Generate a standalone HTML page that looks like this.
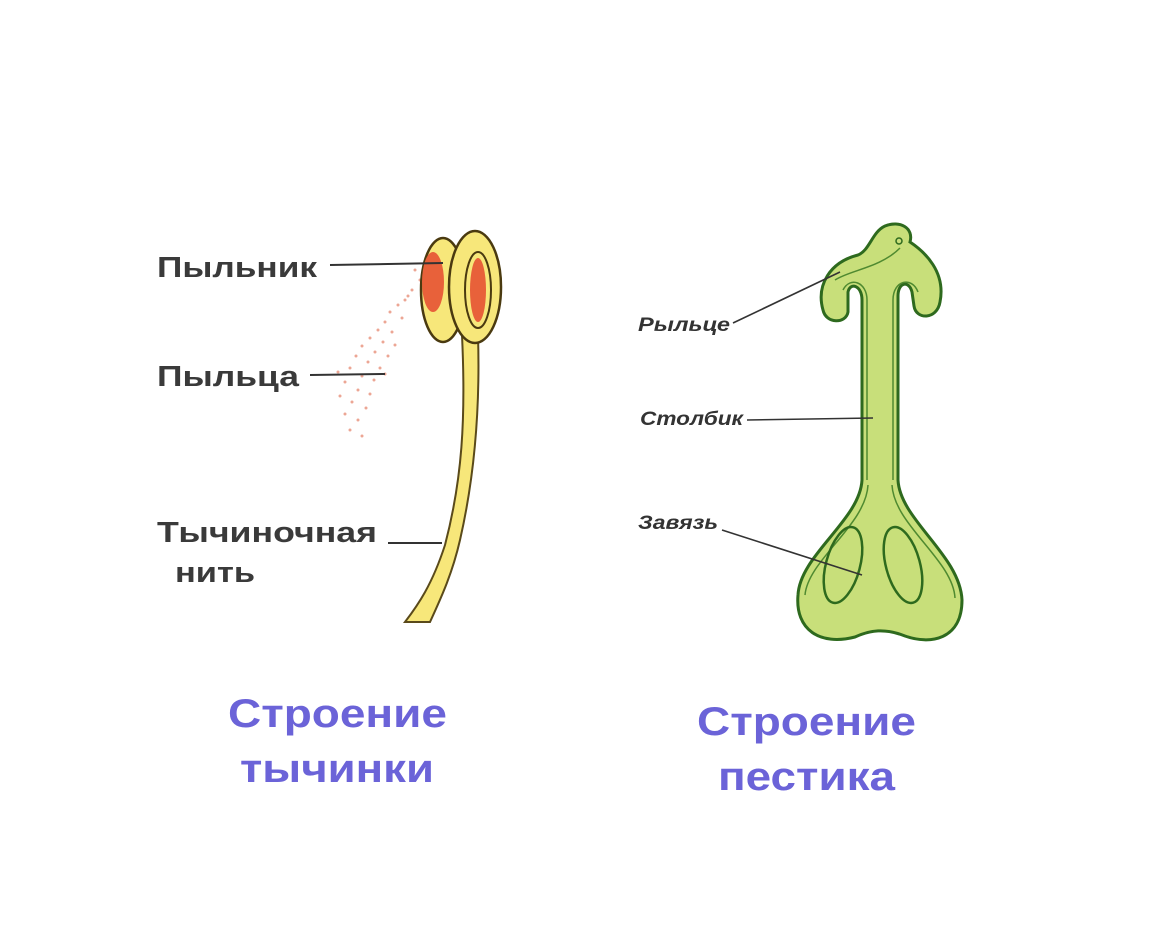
<!DOCTYPE html>
<html><head><meta charset="utf-8"><style>
html,body{margin:0;padding:0;background:#fff;}
svg{display:block}
</style></head><body>
<svg width="1170" height="936" viewBox="0 0 1170 936" xmlns="http://www.w3.org/2000/svg">
<rect width="1170" height="936" fill="#fff"/>
<!-- pollen -->
<g fill="#e8907a" opacity="0.8">
<circle cx="420" cy="280" r="1.5"/><circle cx="412" cy="290" r="1.5"/><circle cx="405" cy="300" r="1.5"/><circle cx="398" cy="305" r="1.5"/><circle cx="390" cy="312" r="1.5"/><circle cx="402" cy="318" r="1.5"/><circle cx="385" cy="322" r="1.5"/><circle cx="378" cy="330" r="1.5"/><circle cx="392" cy="332" r="1.5"/><circle cx="370" cy="338" r="1.5"/><circle cx="383" cy="342" r="1.5"/><circle cx="362" cy="346" r="1.5"/><circle cx="375" cy="352" r="1.5"/><circle cx="388" cy="356" r="1.5"/><circle cx="356" cy="356" r="1.5"/><circle cx="368" cy="362" r="1.5"/><circle cx="380" cy="368" r="1.5"/><circle cx="350" cy="368" r="1.5"/><circle cx="362" cy="376" r="1.5"/><circle cx="374" cy="380" r="1.5"/><circle cx="385" cy="374" r="1.5"/><circle cx="345" cy="382" r="1.5"/><circle cx="358" cy="390" r="1.5"/><circle cx="370" cy="394" r="1.5"/><circle cx="340" cy="396" r="1.5"/><circle cx="352" cy="402" r="1.5"/><circle cx="366" cy="408" r="1.5"/><circle cx="345" cy="414" r="1.5"/><circle cx="358" cy="420" r="1.5"/><circle cx="350" cy="430" r="1.5"/><circle cx="362" cy="436" r="1.5"/><circle cx="408" cy="296" r="1.5"/><circle cx="395" cy="345" r="1.5"/><circle cx="415" cy="270" r="1.5"/><circle cx="425" cy="262" r="1.5"/><circle cx="338" cy="372" r="1.5"/>
</g>
<!-- stamen filament -->
<path d="M462,335 C466,420 462,480 445,545 C432,585 418,605 405,622 L430,622 C440,600 452,575 460,540 C476,470 480,400 478,335 Z" fill="#f7e77a" stroke="#5a4a1a" stroke-width="2"/>
<!-- anther left lobe -->
<ellipse cx="443" cy="290" rx="22" ry="52" fill="#f7e77a" stroke="#4a3a10" stroke-width="2.5"/>
<ellipse cx="433" cy="282" rx="11" ry="30" fill="#e8613a"/>
<!-- anther right lobe -->
<ellipse cx="475" cy="287" rx="26" ry="56" fill="#f7e77a" stroke="#4a3a10" stroke-width="2.5"/>
<ellipse cx="478" cy="290" rx="13" ry="38" fill="#f7e77a" stroke="#4a3a10" stroke-width="2"/>
<ellipse cx="478" cy="290" rx="8" ry="32" fill="#e8613a"/>
<!-- stamen lines -->
<g stroke="#333" stroke-width="2">
<line x1="330" y1="265" x2="443" y2="263"/>
<line x1="310" y1="375" x2="385" y2="374"/>
<line x1="388" y1="543" x2="442" y2="543"/>
</g>
<g font-family="Liberation Sans, DejaVu Sans, sans-serif" font-weight="bold" fill="#3a3a3a" font-size="29">
<text x="157" y="277" textLength="160" lengthAdjust="spacingAndGlyphs">Пыльник</text>
<text x="157" y="386" textLength="142" lengthAdjust="spacingAndGlyphs">Пыльца</text>
<text x="157" y="542" textLength="220" lengthAdjust="spacingAndGlyphs">Тычиночная</text>
<text x="175" y="582" textLength="80" lengthAdjust="spacingAndGlyphs">нить</text>
</g>
<!-- pistil -->
<path d="M862,480 L862,300 C862,285 850,282 848,292 L848,312 C846,324 826,324 823,310 C816,285 830,262 858,255 C870,250 872,232 885,226 C900,220 914,228 910,242 C925,252 946,272 940,302 C937,320 916,320 914,306 L912,292 C909,280 898,282 898,296 L898,480 C900,520 960,555 962,600 C962,640 930,645 905,636 C885,628 870,630 855,637 C820,646 795,630 798,595 C800,555 860,520 862,480 Z" fill="#c8df7a" stroke="#2e6a1e" stroke-width="3"/>
<path d="M867,480 L867,300 C867,282 850,276 843,290 M893,480 L893,300 C893,280 912,276 918,292 M835,280 C850,270 880,268 900,248" fill="none" stroke="#4f8a30" stroke-width="1.5"/>
<path d="M805,595 C808,560 866,525 868,485 M955,598 C953,560 894,525 892,485" fill="none" stroke="#4f8a30" stroke-width="1.5"/>
<ellipse cx="843" cy="565" rx="17" ry="39" transform="rotate(15 843 565)" fill="none" stroke="#2e6a1e" stroke-width="2.5"/>
<ellipse cx="903" cy="565" rx="17" ry="39" transform="rotate(-15 903 565)" fill="none" stroke="#2e6a1e" stroke-width="2.5"/>
<circle cx="899" cy="241" r="3" fill="none" stroke="#2e6a1e" stroke-width="1.5"/>
<!-- pistil lines -->
<g stroke="#333" stroke-width="1.6">
<line x1="733" y1="323" x2="840" y2="272"/>
<line x1="747" y1="420" x2="873" y2="418"/>
<line x1="722" y1="530" x2="862" y2="575"/>
</g>
<g font-family="Liberation Sans, DejaVu Sans, sans-serif" font-style="italic" font-weight="bold" fill="#333" font-size="19">
<text x="638" y="331" textLength="92" lengthAdjust="spacingAndGlyphs">Рыльце</text>
<text x="640" y="425" textLength="103" lengthAdjust="spacingAndGlyphs">Столбик</text>
<text x="638" y="529" textLength="80" lengthAdjust="spacingAndGlyphs">Завязь</text>
</g>
<g font-family="Liberation Sans, DejaVu Sans, sans-serif" font-weight="bold" fill="#6b63d8" font-size="40">
<text x="228" y="727" textLength="219" lengthAdjust="spacingAndGlyphs">Строение</text>
<text x="240" y="782" textLength="194" lengthAdjust="spacingAndGlyphs">тычинки</text>
<text x="697" y="735" textLength="219" lengthAdjust="spacingAndGlyphs">Строение</text>
<text x="718" y="790" textLength="177" lengthAdjust="spacingAndGlyphs">пестика</text>
</g>
</svg>
</body></html>
